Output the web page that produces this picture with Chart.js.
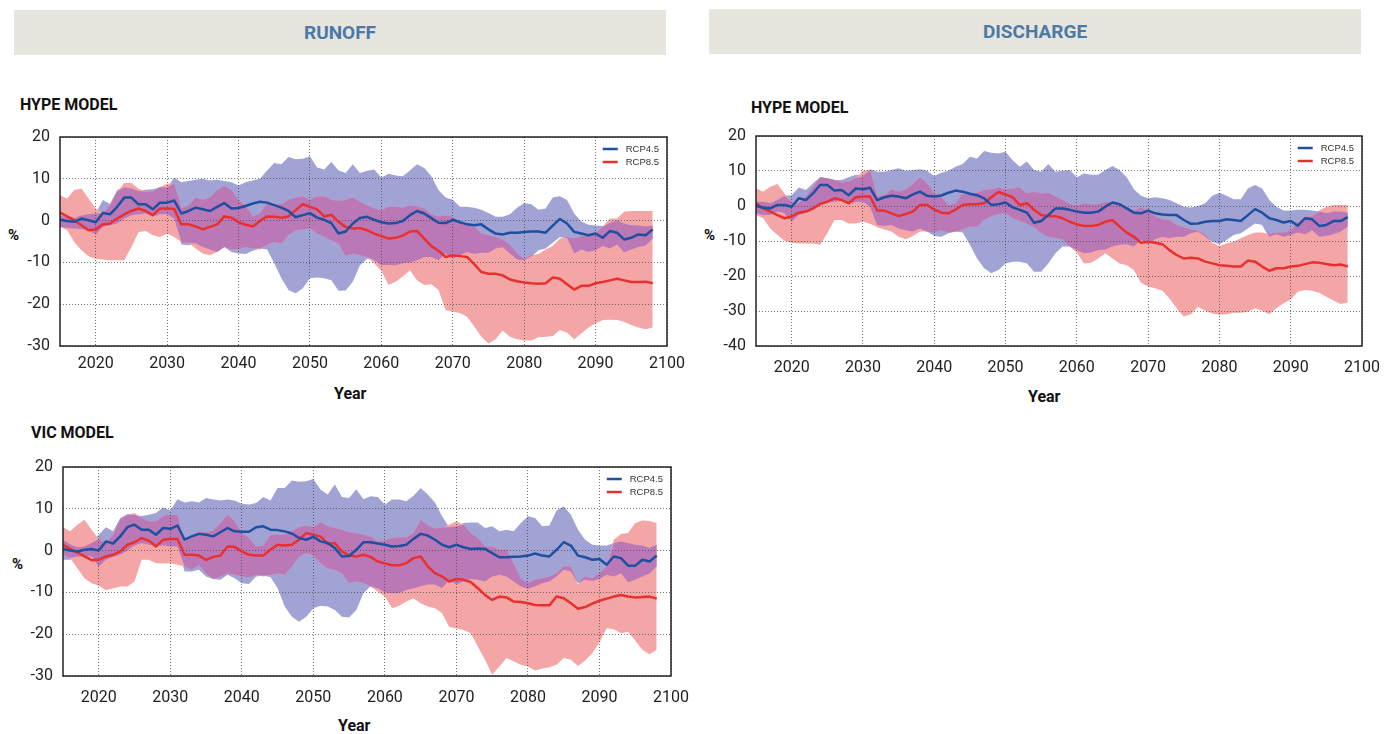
<!DOCTYPE html>
<html><head><meta charset="utf-8">
<script src="https://cdn.jsdelivr.net/npm/chart.js@4.4.1/dist/chart.umd.min.js"></script>
<style>
html,body{margin:0;padding:0;background:#fff;width:1392px;height:734px;overflow:hidden;font-family:Roboto,"Liberation Sans",sans-serif;}
.hdr{position:absolute;background:#e8e5df;color:#4a7aa6;font-weight:700;font-size:19px;display:flex;align-items:center;justify-content:center;}
.lbl{position:absolute;font-weight:700;color:#111;white-space:nowrap;line-height:1;}
canvas{position:absolute;}
</style></head><body>
<div class="hdr" style="left:14px;top:10px;width:652px;height:45px;">RUNOFF</div>
<div class="hdr" style="left:709px;top:9px;width:652px;height:45px;">DISCHARGE</div>
<div class="lbl" style="left:20px;top:97px;font-size:16px;">HYPE MODEL</div>
<div class="lbl" style="left:751px;top:100px;font-size:16px;">HYPE MODEL</div>
<div class="lbl" style="left:31px;top:425px;font-size:16px;">VIC MODEL</div>
<div class="lbl" style="left:8px;top:228px;font-size:15px;">%</div>
<div class="lbl" style="left:704px;top:228px;font-size:15px;">%</div>
<div class="lbl" style="left:12px;top:557px;font-size:15px;">%</div>
<div class="lbl" style="left:334px;top:386px;font-size:16px;">Year</div>
<div class="lbl" style="left:1028px;top:389px;font-size:16px;">Year</div>
<div class="lbl" style="left:338px;top:718px;font-size:16px;">Year</div>
<canvas id="c1" width="700" height="260" style="left:0px;top:120px;"></canvas>
<canvas id="c2" width="690" height="260" style="left:696px;top:120px;"></canvas>
<canvas id="c3" width="700" height="260" style="left:3px;top:450px;"></canvas>
<script>
// ---------- categories & ticks ----------
const YEARS = Array.from({length: 84}, (_, i) => 2015 + i); // 2015..2098
const X_TICKS = [2020, 2030, 2040, 2050, 2060, 2070, 2080, 2090, 2100];
const Y_TICKS_RUNOFF = [-30, -20, -10, 0, 10, 20];
const Y_TICKS_DISCHARGE = [-40, -30, -20, -10, 0, 10, 20];
const SERIES_NAMES = ['RCP4.5', 'RCP8.5'];

// ---------- RUNOFF / HYPE ----------
const runoffHype45 = [0.2,-0.1,-0.3,0.5,0.1,-0.4,
 1.8,1.5,3.3,5.5,5.5,3.9,3.9,2.7,4.3,4.3,
 4.8,1.7,2.3,3.1,2.7,2.3,3.3,4.2,2.9,3.0,
 3.5,4.1,4.5,4.3,3.7,3.1,2.3,0.8,1.3,1.8,
 0.7,0.2,-0.6,-3.1,-2.6,-0.7,0.6,0.9,0.2,-0.4,
 -0.7,-0.6,-0.1,1.3,2.3,1.7,0.6,-0.5,-0.6,0.2,
 -0.4,-0.9,-1.1,-0.9,-2.1,-3.1,-3.3,-2.9,-2.9,-2.7,
 -2.6,-2.6,-2.9,-1.2,0.4,-0.7,-2.7,-3.1,-3.5,-3.1,
 -4.1,-2.5,-2.9,-4.5,-4.1,-3.3,-3.5,-2.1];
const runoffHype85 = [1.9,1.0,0.1,-1.1,-2.3,-2.1,
 -0.9,-0.7,0.5,1.5,2.3,2.9,2.3,1.3,2.9,2.9,
 2.8,-0.9,-0.9,-1.4,-2.1,-1.5,-0.9,1.0,0.7,-0.4,
 -1.0,-1.4,-0.1,1.0,0.9,0.7,1.0,2.5,3.9,3.3,
 2.7,1.0,1.4,-0.3,-1.5,-1.9,-1.8,-2.3,-3.1,-3.7,
 -4.3,-4.1,-3.6,-2.6,-2.5,-4.3,-6.1,-7.2,-8.7,-8.3,
 -8.5,-8.7,-10.4,-12.3,-12.7,-12.7,-13.1,-14.1,-14.5,-14.8,
 -15.0,-15.1,-15.0,-13.6,-13.9,-15.2,-16.5,-15.6,-15.6,-15.0,
 -14.7,-14.3,-13.9,-14.3,-14.7,-14.7,-14.6,-15.0];
const runoffHype45Upper = [1.2,0.8,0.6,1.2,1.5,1.7,
 4.9,4.0,7.3,8.0,7.7,7.1,7.4,7.5,8.0,7.9,
 10.3,9.2,9.5,9.8,10.0,9.6,9.8,9.5,9.2,8.4,
 9.2,9.6,10.0,12.0,13.8,13.5,15.2,14.7,14.8,15.4,
 12.7,12.2,14.0,12.0,11.4,13.5,11.4,11.9,12.2,10.3,
 11.2,10.8,10.6,12.0,13.5,12.6,10.6,7.3,5.5,5.0,
 3.3,3.3,3.1,2.6,1.8,0.9,0.9,1.5,3.1,4.2,
 3.9,2.6,2.9,5.5,5.8,4.9,1.7,-0.2,-1.0,-1.2,
 -1.3,-0.6,0.1,-0.7,-1.1,-1.2,-1.4,-1.2];
const runoffHype45Lower = [-1.5,-1.8,-1.9,-2.0,-2.3,-3.3,
 -1.5,-1.1,-0.7,0.5,1.3,1.5,1.7,1.0,1.5,1.5,
 0.5,-5.7,-5.9,-5.5,-6.3,-6.9,-7.5,-6.3,-7.5,-7.9,
 -8.0,-7.2,-6.7,-6.9,-10.2,-13.8,-16.6,-17.4,-16.2,-13.8,
 -13.6,-13.8,-14.3,-16.8,-16.7,-14.6,-10.7,-9.1,-9.5,-10.6,
 -10.6,-10.7,-10.2,-10.0,-9.5,-8.7,-8.7,-9.5,-7.9,-9.1,
 -8.3,-7.5,-8.0,-7.7,-7.7,-6.7,-6.4,-7.9,-9.3,-9.5,
 -8.5,-7.1,-6.7,-5.3,-3.9,-4.1,-7.9,-6.9,-7.5,-7.1,
 -6.1,-6.7,-5.7,-7.6,-6.9,-6.3,-6.0,-4.3];
const runoffHype85Upper = [6.0,5.3,7.3,7.7,5.3,2.9,
 1.7,3.7,6.9,9.0,9.0,7.6,6.9,7.0,8.0,8.8,
 9.0,2.9,3.7,5.5,5.0,5.5,7.3,8.2,7.3,4.9,
 3.7,1.0,1.7,4.2,4.0,3.9,4.9,5.5,5.8,5.0,
 5.8,5.8,5.0,4.7,4.9,5.5,4.5,3.7,2.9,2.5,
 3.3,3.3,3.1,3.7,3.4,2.9,1.5,1.0,1.3,0.9,
 -0.7,-1.1,-1.5,-3.1,-3.5,-3.9,-4.5,-5.7,-7.9,-9.1,
 -8.3,-8.0,-6.9,-6.1,-4.3,-3.9,-4.3,-3.7,-3.5,-3.1,
 -1.5,0.5,0.5,2.1,2.3,2.3,2.3,2.3];
const runoffHype85Lower = [-1.5,-2.3,-5.1,-7.1,-8.5,-9.1,
 -9.3,-9.5,-9.5,-9.5,-6.3,-2.7,-2.5,-3.5,-3.9,-3.1,
 -3.9,-5.1,-5.3,-6.7,-7.9,-8.3,-7.5,-6.3,-6.9,-6.9,
 -6.3,-6.7,-6.9,-5.9,-5.1,-5.5,-3.5,-2.3,-2.1,-1.9,
 -3.1,-3.9,-4.7,-5.5,-8.5,-7.9,-8.3,-8.7,-10.2,-12.0,
 -15.4,-14.6,-13.4,-11.9,-14.3,-15.4,-15.2,-16.6,-21.4,-21.8,
 -22.1,-23.0,-25.3,-27.8,-29.4,-28.4,-26.3,-27.8,-28.4,-28.7,
 -28.7,-27.9,-27.8,-27.6,-26.2,-26.8,-28.4,-27.0,-25.6,-24.6,
 -23.8,-23.7,-23.8,-24.2,-25.0,-25.6,-26.0,-25.6];

// ---------- DISCHARGE / HYPE ----------
const dischargeHype45 = [0.0,-0.4,-0.7,0.3,0.3,-0.2,
 2.2,1.7,3.6,6.0,6.0,4.4,4.6,3.1,5.0,4.8,
 5.2,1.7,2.5,2.9,2.7,2.2,3.3,4.1,2.9,2.7,
 3.0,3.8,4.4,4.1,3.5,3.1,2.2,0.3,0.5,1.0,
 -0.4,-1.1,-1.9,-4.8,-4.3,-2.6,-0.7,-0.7,-1.1,-1.6,
 -1.9,-1.9,-1.6,-0.2,1.0,0.5,-0.7,-1.9,-2.1,-1.3,
 -2.1,-2.4,-2.6,-2.6,-4.0,-5.1,-5.0,-4.5,-4.3,-4.3,
 -3.8,-4.0,-4.3,-2.6,-0.9,-1.9,-3.5,-4.0,-4.7,-4.3,
 -5.6,-3.5,-3.8,-5.7,-5.4,-4.3,-4.3,-3.2];
const dischargeHype85 = [0.8,-0.7,-1.6,-2.6,-3.5,-3.0,
 -1.9,-1.6,-0.7,0.6,1.2,2.2,1.7,0.8,2.5,2.7,
 2.7,-1.3,-1.3,-2.1,-2.9,-2.3,-1.6,0.3,0.3,-1.0,
 -1.9,-2.1,-1.0,0.3,0.5,0.5,0.8,2.5,4.0,3.3,
 2.5,0.3,0.8,-1.1,-2.6,-2.9,-2.9,-3.5,-4.5,-5.2,
 -5.7,-5.7,-5.4,-4.5,-4.0,-5.9,-7.6,-8.8,-10.5,-10.2,
 -10.5,-10.9,-12.6,-14.0,-15.0,-14.8,-15.0,-15.9,-16.4,-16.9,
 -17.1,-17.3,-17.3,-15.6,-15.9,-17.3,-18.5,-17.8,-17.8,-17.3,
 -17.1,-16.6,-16.1,-16.2,-16.6,-16.9,-16.7,-17.3];
const dischargeHype45Upper = [1.2,1.2,0.8,1.7,2.9,3.1,
 5.3,4.6,6.5,8.2,7.9,7.4,7.4,8.2,8.9,8.6,
 10.5,9.8,9.8,10.3,10.8,10.1,10.3,10.5,10.1,8.6,
 9.5,10.1,11.2,12.0,14.1,13.6,15.7,15.2,15.0,15.5,
 13.1,11.2,12.7,10.3,9.8,12.0,9.8,10.1,10.3,8.2,
 9.3,8.9,8.9,10.3,11.4,10.3,8.2,4.8,2.9,2.2,
 2.5,2.2,1.7,0.8,-0.2,-0.4,0.0,0.8,2.9,3.8,
 2.9,1.9,1.9,5.0,6.0,5.0,1.7,-0.2,-1.3,-1.3,
 -1.1,-1.1,-1.3,-1.6,-2.1,-1.6,-1.6,-1.9];
const dischargeHype45Lower = [-2.1,-2.6,-2.6,-1.6,-2.1,-4.5,
 -2.6,-1.9,-1.1,0.3,1.0,1.2,1.5,0.6,1.2,1.2,
 -0.2,-5.4,-5.7,-5.4,-6.4,-6.9,-7.3,-6.4,-7.3,-8.6,
 -8.8,-7.8,-7.3,-7.6,-11.1,-15.0,-17.8,-19.2,-18.3,-16.4,
 -15.9,-15.9,-16.4,-18.8,-18.8,-16.4,-13.5,-11.6,-11.6,-12.6,
 -13.5,-13.3,-12.6,-12.4,-11.6,-11.1,-10.9,-11.6,-9.7,-10.9,
 -9.5,-8.8,-9.2,-8.8,-8.8,-7.8,-7.3,-8.8,-10.2,-10.9,
 -9.7,-8.3,-7.8,-6.4,-5.0,-5.4,-8.8,-8.1,-8.8,-8.3,
 -7.6,-8.1,-6.9,-8.8,-8.6,-8.1,-7.3,-5.9];
const dischargeHype85Upper = [5.0,4.1,5.5,6.3,3.6,1.2,
 0.8,2.7,5.5,8.2,7.9,7.4,6.7,7.0,7.9,10.1,
 10.3,2.9,3.1,4.8,4.1,4.8,6.3,8.2,6.5,3.6,
 2.5,0.3,0.8,3.6,3.4,3.8,4.6,4.8,5.3,4.8,
 5.0,5.3,3.6,4.1,3.6,3.8,2.7,1.7,0.6,0.0,
 0.8,0.5,0.5,1.2,1.0,0.6,-0.4,-1.3,-0.4,-1.3,
 -3.0,-3.8,-4.0,-5.4,-6.1,-6.7,-7.0,-8.3,-10.5,-11.4,
 -10.7,-10.2,-9.2,-8.3,-7.6,-7.6,-8.0,-7.6,-7.6,-7.0,
 -4.8,-3.0,-2.9,-1.3,-0.2,0.3,0.3,0.3];
const dischargeHype85Lower = [-2.6,-3.5,-6.4,-8.3,-9.9,-10.5,
 -10.7,-10.7,-10.7,-11.1,-7.8,-4.0,-4.0,-5.0,-5.0,-4.5,
 -5.1,-6.1,-6.7,-7.3,-8.8,-9.5,-8.6,-7.3,-7.3,-7.6,
 -6.9,-7.6,-7.3,-6.7,-5.9,-5.9,-4.0,-2.9,-2.3,-2.1,
 -3.5,-4.2,-5.1,-6.1,-7.8,-8.8,-9.2,-9.5,-11.6,-13.3,
 -16.4,-16.2,-15.0,-13.5,-15.0,-16.4,-16.9,-18.3,-21.9,-23.0,
 -23.5,-24.2,-26.4,-29.2,-31.6,-30.9,-28.8,-29.9,-30.7,-31.1,
 -30.9,-30.5,-30.5,-30.2,-29.2,-29.9,-30.9,-29.2,-27.8,-26.7,
 -24.5,-24.0,-24.2,-24.8,-25.9,-27.0,-28.0,-27.6];

// ---------- RUNOFF / VIC ----------
const runoffVic45 = [0.4,0.0,-0.2,0.2,0.4,0.0,
 2.2,1.7,3.4,5.6,6.2,5.0,5.0,3.8,5.4,5.2,
 6.0,2.6,3.4,4.0,3.8,3.4,4.4,5.4,4.6,4.5,
 4.5,5.6,5.8,5.0,4.9,4.6,4.1,3.0,2.6,3.3,
 2.2,1.8,0.6,-1.4,-1.3,0.2,2.0,2.0,1.7,1.4,
 1.0,1.1,1.4,2.8,4.0,3.6,2.6,1.4,0.8,1.4,
 0.8,0.4,0.5,0.4,-0.6,-1.6,-1.6,-1.5,-1.4,-1.2,
 -0.7,-1.2,-1.4,0.2,2.0,1.2,-1.2,-1.6,-2.2,-2.0,
 -3.4,-1.4,-1.8,-3.6,-3.6,-2.2,-2.6,-1.2];
const runoffVic85 = [1.4,0.4,-0.4,-1.4,-2.3,-2.2,
 -1.4,-1.0,-0.2,1.4,2.0,3.0,2.4,1.0,2.6,2.8,
 2.8,-1.0,-1.0,-1.2,-2.2,-1.5,-1.2,1.0,0.9,-0.2,
 -1.0,-1.2,-1.2,0.2,1.4,1.2,1.4,2.6,4.2,3.8,
 3.4,1.6,1.8,-0.2,-1.2,-1.4,-1.0,-1.5,-2.6,-3.1,
 -3.5,-3.5,-3.0,-1.8,-1.4,-3.8,-5.4,-6.2,-7.4,-6.8,
 -7.0,-7.5,-9.0,-10.6,-11.8,-11.0,-11.2,-12.2,-12.3,-12.6,
 -13.0,-13.1,-13.1,-11.0,-11.4,-12.6,-13.9,-13.5,-12.7,-12.0,
 -11.5,-11.0,-10.6,-11.0,-11.2,-11.1,-11.0,-11.5];
const runoffVic45Upper = [2.6,1.5,0.8,1.0,1.8,3.8,
 5.6,4.6,7.8,8.7,8.6,8.3,8.6,9.0,10.4,9.6,
 12.3,11.5,11.8,11.5,12.6,12.2,12.0,12.2,12.0,11.2,
 11.0,11.4,12.8,12.0,15.0,15.0,16.8,16.5,16.6,17.1,
 14.6,13.4,15.8,12.8,12.6,14.7,12.3,13.0,12.8,11.0,
 12.2,12.2,11.8,13.1,15.0,13.4,11.5,8.2,5.6,5.8,
 6.6,6.7,6.7,5.4,5.8,4.6,5.0,4.6,6.6,8.2,
 7.8,5.8,6.0,9.6,10.6,8.6,5.0,2.6,1.4,1.2,
 1.2,1.8,2.2,1.8,1.4,1.2,0.6,1.4];
const runoffVic45Lower = [-2.2,-2.2,-1.4,-1.4,-1.4,-3.8,
 -2.2,-1.5,-1.0,0.0,1.2,1.8,1.4,1.2,1.2,1.0,
 1.0,-5.0,-5.0,-4.6,-6.2,-6.8,-7.0,-5.8,-6.6,-7.8,
 -8.0,-6.2,-6.0,-6.3,-9.0,-13.4,-15.8,-17.0,-15.8,-13.8,
 -13.2,-13.4,-14.2,-15.8,-16.0,-14.2,-10.2,-8.5,-9.0,-10.0,
 -10.2,-10.2,-9.4,-9.0,-8.5,-8.1,-8.1,-9.0,-7.0,-8.1,
 -7.4,-6.8,-7.0,-7.4,-6.2,-5.8,-6.2,-7.4,-8.5,-9.2,
 -8.5,-7.8,-7.4,-6.2,-4.6,-5.0,-7.8,-7.0,-7.2,-6.8,
 -5.8,-6.2,-5.4,-7.6,-7.0,-6.2,-5.5,-3.8];
const runoffVic85Upper = [5.6,4.6,6.2,7.4,5.0,2.8,
 1.8,3.8,7.4,8.6,9.0,7.8,7.0,7.0,8.2,8.6,
 8.6,2.2,3.0,4.6,4.4,4.8,6.6,8.6,7.0,4.2,
 3.0,1.0,1.2,3.8,3.8,3.8,4.6,5.6,6.0,5.6,
 6.8,5.8,5.4,5.0,4.4,4.2,3.8,3.3,2.2,2.4,
 3.0,3.2,3.2,4.2,7.4,6.0,5.2,5.6,6.2,7.0,
 6.2,4.2,3.0,1.0,1.0,0.2,0.2,-3.0,-6.8,-7.7,
 -6.9,-6.6,-6.2,-5.4,-3.8,-3.8,-8.1,-6.2,-6.6,-5.4,
 -3.8,2.6,4.0,4.2,6.6,7.2,7.1,6.6];
const runoffVic85Lower = [-1.0,-1.8,-4.2,-6.6,-7.8,-8.4,
 -9.5,-9.0,-8.6,-8.6,-7.4,-2.2,-2.2,-3.0,-3.1,-3.0,
 -3.4,-3.8,-4.6,-3.4,-5.5,-6.8,-6.2,-5.4,-5.8,-6.2,
 -6.4,-5.8,-6.2,-5.8,-5.5,-5.8,-3.8,-1.5,-0.6,-1.2,
 -3.0,-4.2,-4.6,-5.5,-7.8,-7.4,-7.8,-8.6,-9.8,-11.0,
 -13.8,-13.2,-12.2,-11.4,-12.6,-13.4,-13.8,-15.0,-18.3,-18.6,
 -19.0,-19.8,-23.0,-26.1,-29.7,-27.7,-25.7,-26.5,-27.3,-27.7,
 -28.7,-28.2,-27.9,-27.3,-25.7,-26.1,-27.6,-26.3,-24.5,-22.0,
 -18.6,-18.8,-19.8,-19.4,-21.5,-23.7,-24.8,-23.7];

// ---------- styles ----------
const BLUE = '#1f4f9f', RED = '#e8302e';
const LAV = '#a1a3d5', PINK = '#f4a6a6', PURPLE = '#bb78b6';
const GRID = 'rgba(70,70,70,0.75)';

Chart.defaults.font.family = 'Roboto, "Liberation Sans", sans-serif';

const boxPlugin = {
  id: 'plotBox',
  afterDatasetsDraw(chart) {
    const {ctx, chartArea: a} = chart;
    ctx.save();
    ctx.strokeStyle = '#222';
    ctx.lineWidth = 1.5;
    ctx.strokeRect(a.left, a.top, a.right - a.left, a.bottom - a.top);
    ctx.restore();
  }
};
const legendPlugin = {
  id: 'insideLegend',
  afterDraw(chart) {
    const {ctx, chartArea: a} = chart;
    const items = chart.data.datasets.filter(d => d.label);
    ctx.save();
    ctx.font = '9.5px "Liberation Sans", Arial, sans-serif';
    const w = Math.max(...items.map(d => ctx.measureText(d.label).width));
    const tx = a.right - 8 - w;
    items.forEach((d, i) => {
      const y = a.top + 12 + i * 13;
      ctx.strokeStyle = d.borderColor;
      ctx.lineWidth = 2.5;
      ctx.beginPath(); ctx.moveTo(tx - 23, y); ctx.lineTo(tx - 8, y); ctx.stroke();
      ctx.fillStyle = '#333';
      ctx.textBaseline = 'middle';
      ctx.fillText(d.label, tx, y + 0.5);
    });
    ctx.restore();
  }
};

function makeChart(id, s, yTicks, padTop, padRight, xHeight, xPad) {
  const oLo = s.bLo.map((v, i) => Math.max(v, s.rLo[i]));
  const oHi = s.bHi.map((v, i) => Math.max(oLo[i], Math.min(v, s.rHi[i])));
  const pts = arr => YEARS.map((x, i) => ({x, y: arr[i]}));
  const band = (arr, fill, color) => ({label: '', data: pts(arr), borderColor: 'rgba(0,0,0,0)', borderWidth: 0,
    pointRadius: 0, fill: fill, backgroundColor: color || 'rgba(0,0,0,0)'});
  const line = (name, arr, color) => ({label: name, data: pts(arr), borderColor: color, borderWidth: 2.5,
    pointRadius: 0, fill: false, tension: 0, borderJoinStyle: 'round'});
  return new Chart(document.getElementById(id), {
    type: 'line',
    data: {datasets: [
      line(SERIES_NAMES[0], s.b, BLUE),
      line(SERIES_NAMES[1], s.r, RED),
      band(oHi, false), band(oLo, '-1', PURPLE),
      band(s.rHi, false), band(s.rLo, '-1', PINK),
      band(s.bHi, false), band(s.bLo, '-1', LAV)
    ]},
    options: {
      responsive: false, animation: false,
      layout: {padding: {top: padTop, right: padRight, left: 0, bottom: 0}},
      plugins: {legend: {display: false}, tooltip: {enabled: false}, filler: {drawTime: 'beforeDraw'}},
      scales: {
        x: {type: 'linear', min: 2015, max: 2100,
          afterBuildTicks: sc => { sc.ticks = X_TICKS.map(v => ({value: v})); },
          afterFit: sc => { sc.height = xHeight; sc.paddingLeft = 0; sc.paddingRight = 0; },
          grid: {color: GRID, lineWidth: 1, drawTicks: false},
          border: {display: false, dash: [1, 2]},
          ticks: {padding: xPad, color: '#222', font: {size: 16}, maxRotation: 0, autoSkip: false,
            callback: v => String(v)}},
        y: {type: 'linear', min: yTicks[0], max: yTicks[yTicks.length - 1],
          afterBuildTicks: sc => { sc.ticks = yTicks.map(v => ({value: v})); },
          afterFit: sc => { sc.width = 60; sc.paddingTop = 0; sc.paddingBottom = 0; },
          grid: {color: GRID, lineWidth: 1, drawTicks: false},
          border: {display: false, dash: [1, 2]},
          ticks: {padding: 10, color: '#222', font: {size: 16}, callback: v => String(v)}}
      }
    },
    plugins: [boxPlugin, legendPlugin]
  });
}

makeChart('c1', {b: runoffHype45, r: runoffHype85, bHi: runoffHype45Upper, bLo: runoffHype45Lower,
  rHi: runoffHype85Upper, rLo: runoffHype85Lower}, Y_TICKS_RUNOFF, 17, 33, 34, 8);
makeChart('c2', {b: dischargeHype45, r: dischargeHype85, bHi: dischargeHype45Upper, bLo: dischargeHype45Lower,
  rHi: dischargeHype85Upper, rLo: dischargeHype85Lower}, Y_TICKS_DISCHARGE, 16, 24, 34, 12);
makeChart('c3', {b: runoffVic45, r: runoffVic85, bHi: runoffVic45Upper, bLo: runoffVic45Lower,
  rHi: runoffVic85Upper, rLo: runoffVic85Lower}, Y_TICKS_RUNOFF, 17, 32, 34, 12);
</script>
</body></html>
